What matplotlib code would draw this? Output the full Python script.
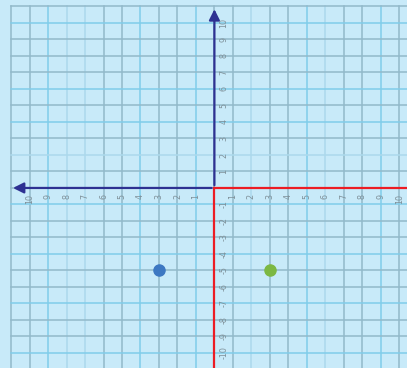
import numpy as np
import matplotlib.pyplot as plt

# 数据
x_ticks = list(range(-10, 11))
y_ticks = list(range(-10, 11))
neg_x_labels = ['10', '9', '8', '7', '6', '5', '4', '3', '2', '1']
pos_x_labels = ['1', '2', '3', '4', '5', '6', '7', '8', '9', '10']
pos_y_labels = ['1', '2', '3', '4', '5', '6', '7', '8', '9', '10']
neg_y_labels = ['-1', '-2', '-3', '-4', '-5', '-6', '-7', '-8', '-9', '-10']
point_x = [-3, 3]
point_y = [-5, -5]
point_colors = ['#3d78c2', '#7cb843']

bg = '#c8eaf9'
navy = '#2e3192'
red = '#ec1c24'
grid_dark = '#92b9ca'
grid_cyan = '#80cdea'
grid_light = '#acd9ec'

fig = plt.figure(figsize=(4.07, 3.68), dpi=100, facecolor=bg)
ax = fig.add_axes([0, 0, 1, 1])
ax.set_facecolor(bg)
ax.set_xlim(-11.6, 10.42)
ax.set_ylim(-10.91, 11.39)
ax.axis('off')

# 网格线
vcols = [grid_dark, grid_dark, grid_cyan, grid_light, grid_light, grid_dark, grid_dark,
         grid_cyan, grid_dark, grid_dark, grid_cyan, grid_dark, grid_dark, grid_light,
         grid_dark, grid_dark, grid_cyan, grid_light, grid_dark, grid_dark, grid_cyan, grid_dark]
for i, gx in enumerate(range(-11, 11)):
    ax.plot([gx, gx], [-11.5, 11], color=vcols[i % len(vcols)], lw=1.1, zorder=1)
hcols = [grid_dark, grid_cyan, grid_dark, grid_dark, grid_dark, grid_cyan, grid_dark,
         grid_cyan, grid_dark, grid_light, grid_dark, grid_dark, grid_cyan, grid_dark,
         grid_dark, grid_cyan, grid_dark, grid_dark, grid_cyan, grid_dark, grid_dark, grid_cyan]
for i, gy in enumerate(range(11, -12, -1)):
    ax.plot([-11, 11], [gy, gy], color=hcols[i % len(hcols)], lw=1.1, zorder=1)

# 坐标轴
ax.plot([0, 11], [0, 0], color=red, lw=1.6, zorder=3)
ax.plot([0, 0], [0, -11.5], color=red, lw=1.6, zorder=3)
ax.annotate('', xy=(-11.05, 0), xytext=(0, 0),
            arrowprops=dict(arrowstyle='-|>', color=navy, lw=1.6, mutation_scale=16), zorder=4)
ax.annotate('', xy=(0, 11.0), xytext=(0, 0),
            arrowprops=dict(arrowstyle='-|>', color=navy, lw=1.6, mutation_scale=16), zorder=4)

# 刻度标签
tcol = '#7e9099'
for v, lab in zip(range(-10, 0), neg_x_labels):
    ax.text(v, -0.35, lab, rotation=90, ha='center', va='top', fontsize=5.8, color=tcol)
for v, lab in zip(range(1, 11), pos_x_labels):
    ax.text(v, -0.35, lab, rotation=90, ha='center', va='top', fontsize=5.8, color=tcol)
for v, lab in zip(range(1, 11), pos_y_labels):
    ax.text(0.5, v, lab, rotation=90, ha='center', va='center', fontsize=5.8, color=tcol)
for v, lab in zip(range(-1, -11, -1), neg_y_labels):
    ax.text(0.5, v, lab, rotation=90, ha='center', va='center', fontsize=5.8, color=tcol)

# 点
for px, py, c in zip(point_x, point_y, point_colors):
    ax.plot(px, py, 'o', color=c, markersize=8, zorder=5)

fig.savefig('out.png', dpi=100, facecolor=bg)
